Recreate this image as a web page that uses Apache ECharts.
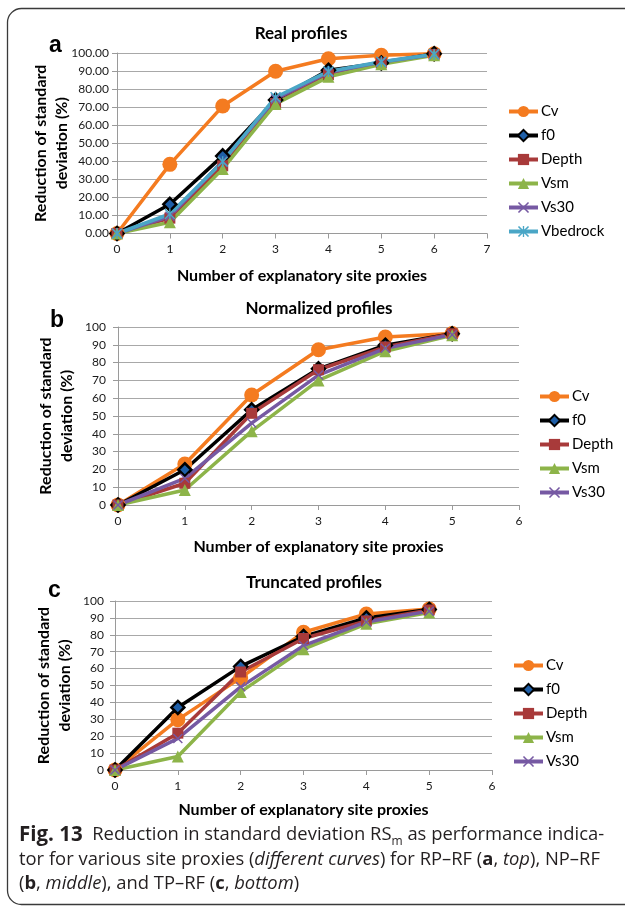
<!DOCTYPE html>
<html>
<head>
<meta charset="utf-8">
<script src="https://cdn.jsdelivr.net/npm/echarts@6/dist/echarts.min.js"></script>
<style>
  html, body { margin: 0; padding: 0; background: #fff; }
  #chart { width: 625px; height: 913px; }
</style>
</head>
<body>
<div id="chart"></div>
<script>
// x values (number of explanatory site proxies)
const xsReal = [0, 1, 2, 3, 4, 5, 6];
const xsNorm = [0, 1, 2, 3, 4, 5];
const xsTrunc = [0, 1, 2, 3, 4, 5];

const namesReal = ['Cv', 'f0', 'Depth', 'Vsm', 'Vs30', 'Vbedrock'];
const namesNorm = ['Cv', 'f0', 'Depth', 'Vsm', 'Vs30'];
const namesTrunc = ['Cv', 'f0', 'Depth', 'Vsm', 'Vs30'];

// a - Real profiles
const realCv = [0, 38.3, 70.6, 89.9, 96.8, 98.7, 99.6];
const realF0 = [0, 16.2, 43.0, 74.0, 90.5, 94.5, 99.6];
const realDepth = [0, 8.5, 37.5, 72.0, 88.0, 94.5, 99.2];
const realVsm = [0, 6.2, 35.8, 71.8, 86.8, 93.8, 98.8];
const realVs30 = [0, 9.5, 40.2, 74.5, 89.2, 95.0, 99.2];
const realVbedrock = [0, 10.8, 39.8, 75.5, 89.8, 95.2, 99.3];

// b - Normalized profiles
const normCv = [0, 23.0, 61.8, 87.2, 94.4, 96.3];
const normF0 = [0, 19.8, 53.5, 76.5, 89.8, 96.2];
const normDepth = [0, 12.2, 51.5, 76.0, 88.8, 96.2];
const normVsm = [0, 8.4, 41.5, 70.0, 86.4, 95.3];
const normVs30 = [0, 15.0, 46.0, 73.0, 88.0, 95.7];

// c - Truncated profiles
const truncCv = [0, 29.8, 54.5, 81.5, 92.3, 95.2];
const truncF0 = [0, 37.0, 61.3, 79.0, 90.0, 95.0];
const truncDepth = [0, 21.8, 58.0, 77.8, 88.2, 94.7];
const truncVsm = [0, 8.0, 46.2, 71.5, 86.5, 93.2];
const truncVs30 = [0, 18.7, 49.2, 73.6, 87.6, 94.0];

const crossPath = 'path://M0,1L1,0L5,4L9,0L10,1L6,5L10,9L9,10L5,6L1,10L0,9L4,5Z';
const starPath = 'path://M0,1L1,0L4.4,3.4L4.4,0L5.6,0L5.6,3.4L9,0L10,1L6,5L10,9L9,10L5.6,6.6L5.6,10L4.4,10L4.4,6.6L1,10L0,9L4,5Z';

const look = {
  Cv: { color: '#f47b20', symbol: 'circle', size: 15 },
  f0: { color: '#000000', fill: '#1f5fa8', symbol: 'diamond', size: 13 },
  Depth: { color: '#a83a3a', symbol: 'rect', size: 11 },
  Vsm: { color: '#8db449', symbol: 'triangle', size: 12 },
  Vs30: { color: '#7659a3', symbol: crossPath, size: 10 },
  Vbedrock: { color: '#4aa6c6', symbol: starPath, size: 11 }
};

const font = 'Lato, "Open Sans", sans-serif';

function makeSeries(names, values, xs, idx) {
  return names.map((name, k) => {
    const s = look[name];
    return {
      name: name,
      type: 'line',
      xAxisIndex: idx,
      yAxisIndex: idx,
      data: xs.map((x, i) => [x, values[k][i]]),
      symbol: s.symbol,
      symbolSize: s.size,
      showAllSymbol: true,
      lineStyle: { color: s.color, width: 3.5 },
      itemStyle: s.fill
        ? { color: s.fill, borderColor: s.color, borderWidth: 2.5 }
        : { color: s.color },
      emphasis: { disabled: true },
      animation: false
    };
  });
}

function xAxis(idx, max, gap) {
  return {
    type: 'value', gridIndex: idx, min: 0, max: max, interval: 1,
    name: 'Number of explanatory site proxies',
    nameLocation: 'middle', nameGap: gap,
    nameTextStyle: { fontFamily: font, fontWeight: 'bold', fontSize: 16, color: '#000' },
    axisLine: { show: true, lineStyle: { color: '#9a9a9a', width: 1 } },
    axisTick: { show: true, length: 5, lineStyle: { color: '#9a9a9a' } },
    axisLabel: { fontFamily: font, fontSize: 12, color: '#1a1a1a', margin: 10 },
    splitLine: { show: false }
  };
}

function yAxis(idx, decimals, margin, gap) {
  return {
    type: 'value', gridIndex: idx, min: 0, max: 100, interval: 10,
    name: 'Reduction of standard\ndeviation (%)',
    nameLocation: 'middle', nameGap: gap, nameRotate: 90,
    nameMoveOverlap: false,
    nameTextStyle: { fontFamily: font, fontWeight: 'bold', fontSize: 16, color: '#000', lineHeight: 21 },
    axisLine: { show: true, lineStyle: { color: '#9a9a9a', width: 1 } },
    axisTick: { show: true, length: 5, lineStyle: { color: '#9a9a9a' } },
    axisLabel: {
      fontFamily: font, fontSize: 12, color: '#1a1a1a', margin: margin,
      formatter: v => decimals ? v.toFixed(2) : String(v)
    },
    splitLine: { show: true, lineStyle: { color: '#a8a8a8', width: 1 } }
  };
}

function legend(names, left, top) {
  return {
    data: names, orient: 'vertical', left: left, top: top, padding: 0,
    itemWidth: 29, itemHeight: 14, itemGap: 9, selectedMode: false,
    lineStyle: { width: 4 },
    textStyle: { fontFamily: font, fontSize: 15, color: '#000', padding: [0, 0, 0, -2] }
  };
}

function panelTitle(text, x, y) {
  return {
    text: text, left: x, top: y, textAlign: 'center', padding: 0,
    textStyle: { fontFamily: font, fontWeight: 'bold', fontSize: 17, color: '#000' }
  };
}

function letter(ch, x, y) {
  return {
    type: 'text', left: x, top: y,
    style: { text: ch, font: 'bold 23px "Liberation Sans", Arial, sans-serif', fill: '#000' }
  };
}

const chart = echarts.init(document.getElementById('chart'));

const option = {
  backgroundColor: '#fff',
  animation: false,
  title: [
    panelTitle('Real profiles', 301, 25),
    panelTitle('Normalized profiles', 319, 300),
    panelTitle('Truncated profiles', 314, 574)
  ],
  legend: [
    legend(namesReal, 507, 104),
    legend(namesNorm, 538, 389),
    legend(namesTrunc, 512, 658)
  ],
  grid: [
    { left: 117, top: 53, width: 370, height: 180.5 },
    { left: 118, top: 327, width: 401, height: 178 },
    { left: 115, top: 601, width: 377, height: 169 }
  ],
  xAxis: [xAxis(0, 7, 34), xAxis(1, 6, 34), xAxis(2, 6, 32)],
  yAxis: [yAxis(0, true, 8, 45), yAxis(1, false, 12, 41), yAxis(2, false, 11, 40)],
  series: [
    ...makeSeries(namesReal, [realCv, realF0, realDepth, realVsm, realVs30, realVbedrock], xsReal, 0),
    ...makeSeries(namesNorm, [normCv, normF0, normDepth, normVsm, normVs30], xsNorm, 1),
    ...makeSeries(namesTrunc, [truncCv, truncF0, truncDepth, truncVsm, truncVs30], xsTrunc, 2)
  ],
  graphic: [
    {
      type: 'rect', silent: true,
      shape: { x: 7.5, y: 8.5, width: 650, height: 896, r: 14 },
      style: { fill: 'none', stroke: '#3a3a3a', lineWidth: 1.3 }
    },
    letter('a', 49, 34),
    letter('b', 50, 309),
    letter('c', 48, 579),
    {
      type: 'text', left: 19, top: 823,
      style: {
        text: '{fig|Fig. 13}  Reduction in standard deviation RS{sub|m} as performance indica-\n' +
              'tor for various site proxies ({i|different curves}) for RP–RF ({bb|a}, {i|top}), NP–RF\n' +
              '({bb|b}, {i|middle}), and TP–RF ({bb|c}, {i|bottom})',
        font: '18.4px "Open Sans", sans-serif',
        fill: '#231f20',
        lineHeight: 24.5,
        rich: {
          fig: { font: 'bold 20.5px "Open Sans", sans-serif', fill: '#231f20', lineHeight: 24.5 },
          sub: { font: '12px "Open Sans", sans-serif', fill: '#231f20', verticalAlign: 'bottom', lineHeight: 20 },
          i: { font: 'italic 18.4px "Open Sans", sans-serif', fill: '#231f20', lineHeight: 24.5 },
          bb: { font: 'bold 18.4px "Open Sans", sans-serif', fill: '#231f20', lineHeight: 24.5 }
        }
      }
    }
  ]
};

chart.setOption(option);
window.addEventListener('resize', () => chart.resize());
</script>
</body>
</html>
